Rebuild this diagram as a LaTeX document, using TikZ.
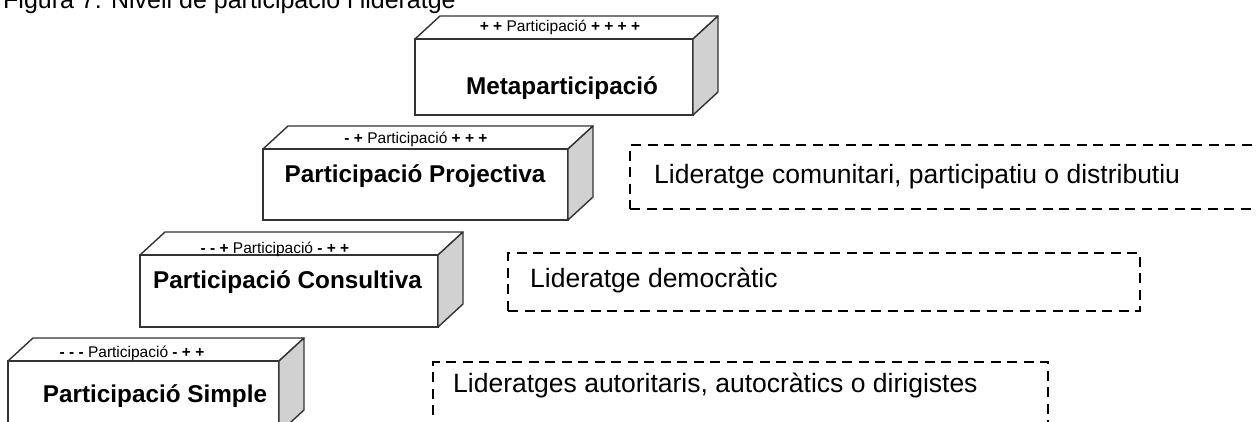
\documentclass[tikz,border=0pt]{standalone}
\usepackage{fontspec}
\setmainfont{Liberation Sans}
\usetikzlibrary{calc}

\begin{document}
\begin{tikzpicture}[x=1pt,y=-1pt,
            blockface/.style={draw=black!80,line width=1.4pt,fill=white,inner sep=0pt,outer sep=0pt},
            blockside/.style={draw=black!80,line width=1.4pt,fill=black!18,line join=round},
            blocktop/.style={draw=black!80,line width=1.4pt,line join=round},
            bigtext/.style={font=\fontsize{24.3}{28}\selectfont\bfseries,inner sep=0pt},
            toptext/.style={font=\fontsize{15.5}{18}\selectfont,inner sep=0pt},
            lidbox/.style={draw,line width=2.8pt,dash pattern=on 10pt off 6.5pt,inner sep=0pt,outer sep=0pt},
            lidtext/.style={font=\fontsize{26.5}{31}\selectfont,inner sep=0pt}]
            \useasboundingbox (0,0) rectangle (1257,421);
            \node[lidtext,anchor=base west,font=\fontsize{25}{30}\selectfont] (F) at (3,8) {Figura 7. Nivell de participació i lideratge};
            \node[blockface,minimum width=278pt,minimum height=76pt] (B0) at (554,77) {};
            \node[blockface,minimum width=305pt,minimum height=71pt] (B1) at (415.5,184.5) {};
            \node[blockface,minimum width=298pt,minimum height=72pt] (B2) at (289,291) {};
            \node[blockface,minimum width=271pt,minimum height=72pt] (B3) at (143.5,397) {};
            \foreach \b in {B0,B1,B2,B3} {
                \draw[blocktop] (\b.north west) -- ++(25,-23) -- ($(\b.north east)+(25,-23)$) -- (\b.north east);
                \draw[blockside] (\b.north east) -- ++(25,-23) -- ($(\b.south east)+(25,-23)$) -- (\b.south east) -- cycle;
            }
            \node[toptext,anchor=base] (T0) at (560,31) {\textbf{+ +} Participació \textbf{+ + + +}};
            \node[toptext,anchor=base] (T1) at (416,143) {\textbf{- +} Participació \textbf{+ + +}};
            \node[toptext,anchor=base] (T2) at (275,253) {\textbf{- - +} Participació \textbf{- + +}};
            \node[toptext,anchor=base] (T3) at (132,357) {\textbf{- - -} Participació \textbf{- + +}};
            \node[bigtext,anchor=base] (N0) at (562,94) {Metaparticipació};
            \node[bigtext,anchor=base] (N1) at (415,182) {Participació Projectiva};
            \node[bigtext,anchor=base] (N2) at (287.5,288) {Participació Consultiva};
            \node[bigtext,anchor=base] (N3) at (155,402) {Participació Simple};
            \node[lidbox,minimum width=650pt,minimum height=64pt,anchor=north west] (L0) at (630,145) {};
            \node[lidbox,minimum width=632pt,minimum height=58pt,anchor=north west] (L1) at (508,253) {};
            \node[lidbox,minimum width=615pt,minimum height=80pt,anchor=north west] (L2) at (433,362) {};
            \node[lidtext,anchor=base west] (M0) at (654,183) {Lideratge comunitari, participatiu o distributiu};
            \node[lidtext,anchor=base west] (M1) at (530,287) {Lideratge democràtic};
            \node[lidtext,anchor=base west] (M2) at (453,392) {Lideratges autoritaris, autocràtics o dirigistes};
        \end{tikzpicture}
\end{document}
